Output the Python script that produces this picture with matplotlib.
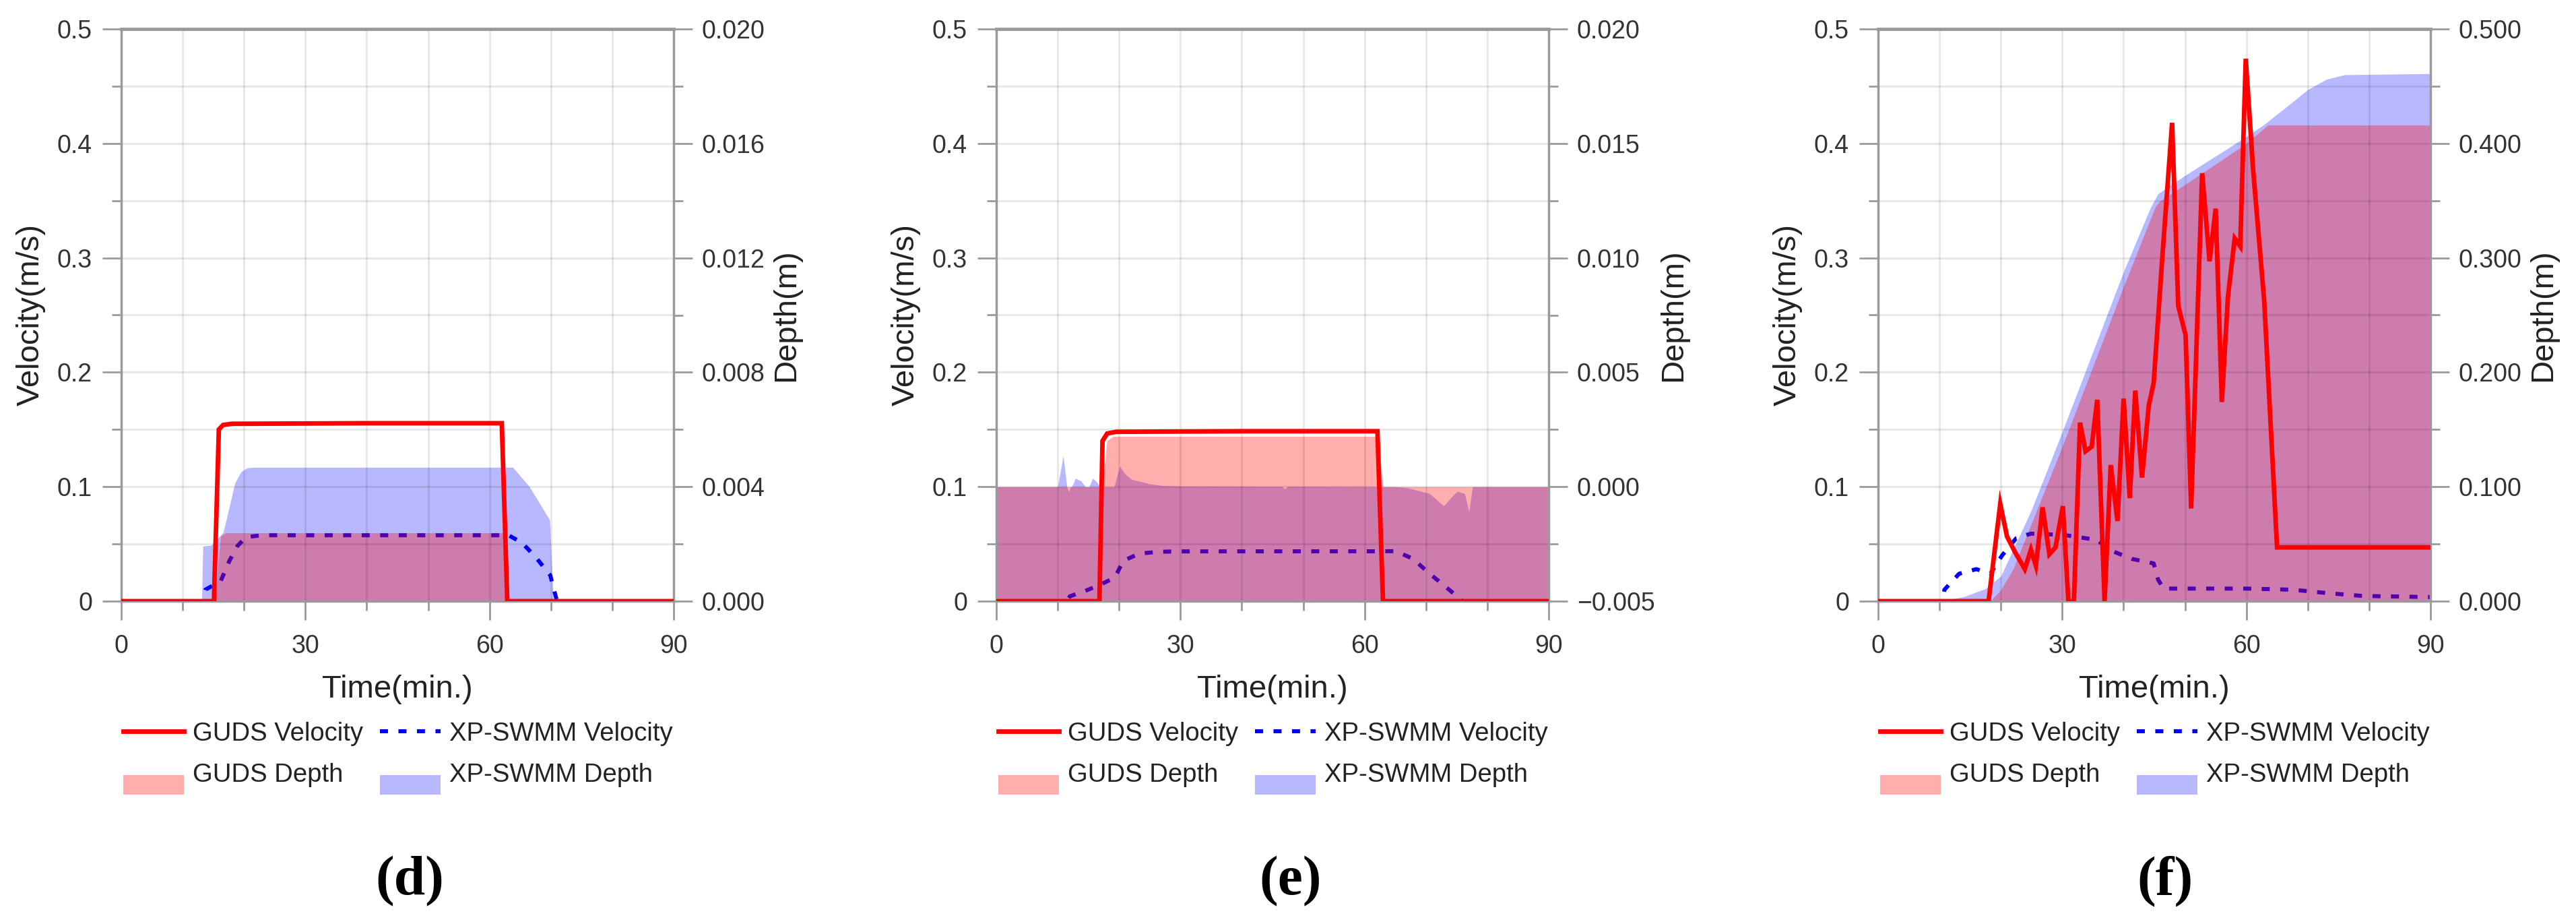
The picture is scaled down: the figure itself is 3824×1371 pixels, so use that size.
import matplotlib
matplotlib.use('Agg')
import matplotlib.pyplot as plt
from matplotlib.lines import Line2D
from matplotlib.patches import Patch, Rectangle
from matplotlib.legend_handler import HandlerPatch
from matplotlib.ticker import MultipleLocator, FuncFormatter

plt.rcParams['font.family'] = ['Liberation Sans', 'DejaVu Sans']

# ---- values ----
# (d)
d_guds_vel_t = [0, 15.1, 15.9, 16.6, 18.0, 40.0, 62.0, 62.9, 90]
d_guds_vel = [0, 0, 0.150, 0.154, 0.155, 0.1555, 0.1555, 0, 0]
d_xp_vel_t = [0, 13.2, 13.7, 16.2, 17.6, 18.9, 20.3, 23.0, 63.1, 65.3, 67.6, 69.9, 70.6, 71.0, 90]
d_xp_vel = [0, 0, 0.010, 0.0175, 0.035, 0.048, 0.056, 0.0576, 0.0576, 0.051, 0.038, 0.0226, 0.008, 0, 0]
d_guds_dep_t = [0, 15.2, 16.2, 17.0, 62.4, 62.9, 90]
d_guds_dep = [0, 0, 0.00228, 0.00239, 0.00239, 0, 0]
d_xp_dep_t = [0, 13.1, 13.3, 14.7, 16.6, 17.5, 18.5, 19.5, 20.5, 21.5, 63.8, 66.5, 69.8, 70.4, 90]
d_xp_dep = [0, 0, 0.00192, 0.00196, 0.0024, 0.0032, 0.00412, 0.00452, 0.00466, 0.00468,
            0.00468, 0.0040, 0.00284, 0, 0]

# (e)
e_guds_vel_t = [0, 16.8, 17.3, 18.06, 19.5, 40.0, 62.1, 63.0, 90]
e_guds_vel = [0, 0, 0.140, 0.1465, 0.148, 0.1485, 0.1485, 0, 0]
e_xp_vel_t = [0, 11.4, 12.0, 14.5, 16.9, 19.3, 20.7, 23.3, 26.4, 29.3, 62.0, 65.1, 67.9, 70.6,
              72.9, 75.1, 76.0, 90]
e_xp_vel = [0, 0, 0.0043, 0.009, 0.0143, 0.0206, 0.0353, 0.0416, 0.0431, 0.0435, 0.0436, 0.0437,
            0.037, 0.024, 0.014, 0.004, 0, 0]
e_guds_dep_t = [0, 17.3, 18.0, 19.0, 62.2, 63.0, 90]
e_guds_dep = [0, 0, 0.0020, 0.0022, 0.0022, 0, 0]
e_xp_dep_t = [0, 10.0, 10.9, 11.5, 11.8, 12.1, 12.3, 12.9, 13.8, 14.5, 15.1, 15.7, 16.4, 16.9,
              19.2, 20.1, 21.0, 22.1, 23.9, 25.0, 27.0, 30.0, 46.5, 47.0, 47.5, 62.0, 65.0,
              67.0, 70.6, 72.9, 74.0, 75.1, 76.3, 77.0, 77.6, 90]
e_xp_dep = [0, 0, 0.00135, 0, -0.000225, 0, 0, 0.000375, 0.00025, 0, 0, 0.000375, 0.0002, 0,
            0, 0.0009, 0.00055, 0.000315, 0.000205, 0.000125, 0.00005, 0.000025, 0.000015,
            -0.0001, 0.000015, 0, 0, -0.00005, -0.0003, -0.000835, -0.0005, -0.0002, -0.0003,
            -0.0011, 0, 0]

# (f)
f_guds_vel_t = [0, 18.0, 19.9, 21.0, 22.3, 23.9, 24.9, 25.7, 26.8, 27.9, 28.9, 30.1, 31.0, 31.9,
                32.9, 33.8, 34.8, 35.7, 36.9, 37.9, 39.0, 40.0, 41.0, 41.9, 43.0, 44.1, 44.9,
                46.3, 47.9, 48.9, 50.1, 51.0, 52.8, 54.0, 55.0, 56.0, 57.0, 58.1, 59.0, 59.9,
                61.1, 62.9, 65.0, 90]
f_guds_vel = [0, 0, 0.085, 0.0566, 0.043, 0.028, 0.045, 0.031, 0.082, 0.041, 0.047, 0.083, 0, 0,
              0.156, 0.131, 0.135, 0.176, 0, 0.119, 0.070, 0.177, 0.090, 0.184, 0.108, 0.171,
              0.191, 0.30, 0.418, 0.258, 0.2325, 0.081, 0.374, 0.297, 0.343, 0.174, 0.266, 0.317,
              0.310, 0.474, 0.377, 0.263, 0.047, 0.047]
f_xp_vel_t = [0, 10.5, 10.8, 13.2, 16.0, 18.3, 20.2, 22.5, 24.9, 30.1, 35.7, 37.6, 41.3, 44.9,
              45.6, 46.5, 50.7, 60.1, 67.6, 73.3, 78.9, 90]
f_xp_vel = [0, 0, 0.010, 0.024, 0.028, 0.024, 0.040, 0.055, 0.059, 0.058, 0.0535, 0.045, 0.037,
            0.033, 0.019, 0.011, 0.011, 0.011, 0.010, 0.007, 0.0046, 0.0036]
f_guds_dep_t = [0, 18.3, 20.0, 22.0, 25.0, 30.0, 35.0, 40.0, 45.2, 46.0, 50.0, 55.0, 60.0, 63.5, 90]
f_guds_dep = [0, 0, 0.010, 0.028, 0.068, 0.135, 0.205, 0.275, 0.345, 0.350, 0.364, 0.382, 0.400,
              0.416, 0.416]
f_xp_dep_t = [0, 10.3, 14.0, 17.5, 20.0, 25.0, 30.0, 35.0, 40.0, 44.3, 45.6, 50.0, 55.0, 60.0,
              63.0, 67.0, 70.0, 73.0, 76.0, 90]
f_xp_dep = [0, 0, 0.004, 0.011, 0.022, 0.080, 0.148, 0.218, 0.288, 0.343, 0.356, 0.372, 0.389,
            0.406, 0.417, 0.434, 0.447, 0.456, 0.460, 0.461]

panels = [
    ('(d)', d_guds_vel_t, d_guds_vel, d_xp_vel_t, d_xp_vel,
     d_guds_dep_t, d_guds_dep, d_xp_dep_t, d_xp_dep, (0.0, 0.020), 0.004),
    ('(e)', e_guds_vel_t, e_guds_vel, e_xp_vel_t, e_xp_vel,
     e_guds_dep_t, e_guds_dep, e_xp_dep_t, e_xp_dep, (-0.005, 0.020), 0.005),
    ('(f)', f_guds_vel_t, f_guds_vel, f_xp_vel_t, f_xp_vel,
     f_guds_dep_t, f_guds_dep, f_xp_dep_t, f_xp_dep, (0.0, 0.500), 0.100),
]
legend_labels = ['GUDS Velocity', 'XP-SWMM Velocity', 'GUDS Depth', 'XP-SWMM Depth']

# ---- layout (pixels of the 3824x1371 canvas) ----
W, H = 3824, 1371
AX_LEFT = [180, 1479, 2788]
AX_W, AX_TOP, AX_BOT = 820, 43, 892
DEPTH_LABEL_OFF = [167, 185, 167]
TAG_X = [608, 1916, 3214]

RED_LW = 4.9
BLUE_LW = 4.3
BLUE_DASH = (0, (2.0, 2.6))
RED_A, BLUE_A = 0.32, 0.28
GRAY = '#9a9a9a'
TXT = '#222222'


def fx(px):
    return px / W


def fy(py):
    return 1 - py / H


def shifted_patch(legend, orig_handle, xdescent, ydescent, width, height, fontsize):
    return Rectangle((-xdescent, -ydescent - 13), width, height)


def vel_fmt(v, pos):
    return '0' if abs(v) < 1e-9 else f'{v:.1f}'


def dep_fmt(v, pos):
    if abs(v) < 1e-9:
        v = 0.0
    return f'{v:.3f}'.replace('-', '\u2212')


fig = plt.figure(figsize=(W / 100, H / 100), dpi=100)

for i, (tag, gvt, gv, xvt, xv, gdt, gd, xdt, xd, dlim, dstep) in enumerate(panels):
    left = AX_LEFT[i]
    ax = fig.add_axes([fx(left), fy(AX_BOT), AX_W / W, (AX_BOT - AX_TOP) / H])
    ax2 = ax.twinx()
    ax.set_zorder(2)
    ax2.set_zorder(1)
    ax.patch.set_visible(False)
    ax2.patch.set_visible(True)
    ax2.patch.set_facecolor('white')

    ax.set_xlim(0, 90)
    ax.set_ylim(0, 0.5)
    ax2.set_ylim(*dlim)

    # depth areas (right axis), blue velocity under them
    ax2.fill_between(xdt, xd, dlim[0], color='blue', alpha=BLUE_A, lw=0, zorder=1)
    ax2.fill_between(gdt, gd, dlim[0], color='red', alpha=RED_A, lw=0, zorder=1.1)
    ax2.plot(xvt, xv, color='blue', lw=BLUE_LW, ls=BLUE_DASH, transform=ax.transData, zorder=0.5)
    ax2.set_ylim(*dlim)

    ax.plot(gvt, gv, color='red', lw=RED_LW, zorder=3, solid_joinstyle='miter')

    ax.xaxis.set_major_locator(MultipleLocator(30))
    ax.xaxis.set_minor_locator(MultipleLocator(10))
    ax.yaxis.set_major_locator(MultipleLocator(0.1))
    ax.yaxis.set_minor_locator(MultipleLocator(0.05))
    ax.yaxis.set_major_formatter(FuncFormatter(vel_fmt))
    ax2.yaxis.set_major_locator(MultipleLocator(dstep))
    ax2.yaxis.set_minor_locator(MultipleLocator(dstep / 2))
    ax2.yaxis.set_major_formatter(FuncFormatter(dep_fmt))

    ax.grid(which='both', color='k', alpha=0.09, lw=2.2)
    for a in (ax, ax2):
        a.tick_params(which='major', direction='out', length=20, width=2, color=GRAY,
                      labelsize=27, labelcolor='#333333')
        a.tick_params(which='minor', direction='out', length=10, width=2, color=GRAY)
    ax.tick_params(axis='y', which='major', pad=11)
    ax.tick_params(axis='x', which='major', pad=15)
    ax2.tick_params(axis='y', which='major', pad=10)
    for s in ax.spines.values():
        s.set_color(GRAY)
        s.set_linewidth(2.5)
    ax.spines['top'].set_linewidth(3.5)
    for s in ax2.spines.values():
        s.set_visible(False)

    ax.text(-134 / AX_W, 0.5, 'Velocity(m/s)', transform=ax.transAxes, rotation=90,
            ha='center', va='center', fontsize=34, color=TXT)
    ax.text(1 + DEPTH_LABEL_OFF[i] / AX_W, 0.5, 'Depth(m)', transform=ax.transAxes,
            rotation=90, ha='center', va='center', fontsize=34, color=TXT)
    ax.text(0.5, -131 / (AX_BOT - AX_TOP), 'Time(min.)', transform=ax.transAxes,
            ha='center', va='center', fontsize=34, color=TXT)

    handles = [
        Line2D([], [], color='red', lw=RED_LW),
        Line2D([], [], color='blue', lw=BLUE_LW, ls=BLUE_DASH),
        Patch(facecolor='red', alpha=RED_A, edgecolor='none'),
        Patch(facecolor='blue', alpha=BLUE_A, edgecolor='none'),
    ]
    spots = [(3, 1089), (384, 1089), (3, 1150), (384, 1150)]
    for h, lab, (dx, py) in zip(handles, legend_labels, spots):
        fig.legend([h], [lab], loc='center left', bbox_to_anchor=(fx(left + dx), fy(py)),
                   frameon=False, borderpad=0, borderaxespad=0, fontsize=27.5,
                   handlelength=2.35, handleheight=0.8, handletextpad=0.35,
                   labelcolor=TXT, handler_map={Patch: HandlerPatch(patch_func=shifted_patch)})

    fig.text(fx(TAG_X[i]), fy(1308), tag, ha='center', va='center', fontsize=60,
             fontweight='bold', family=['Liberation Serif', 'DejaVu Serif'], color='black')

fig.savefig('out.png', dpi=100, facecolor='white')
